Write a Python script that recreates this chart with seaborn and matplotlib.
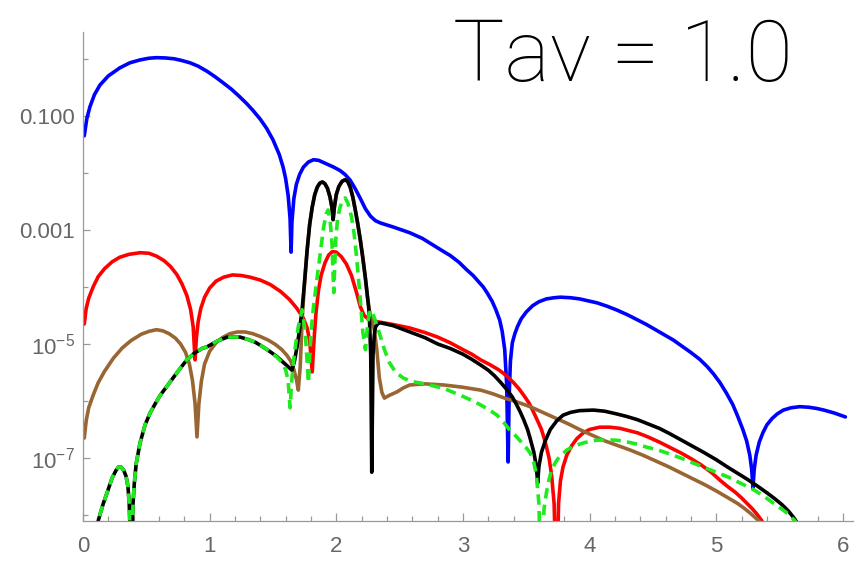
import numpy as np
import pandas as pd
import matplotlib
matplotlib.use("Agg")
import matplotlib.pyplot as plt
import seaborn as sns
from matplotlib.ticker import FixedLocator, FixedFormatter, NullFormatter

# ---------------- data (x, log10 y) ----------------
blue_x = [0.01, 0.03, 0.055, 0.09, 0.134, 0.2, 0.29, 0.37, 0.45, 0.52, 0.58, 0.65, 0.72, 0.78, 0.845,
          0.91, 0.98, 1.04, 1.106, 1.17, 1.23, 1.29, 1.34, 1.40, 1.45, 1.50, 1.55, 1.58, 1.60, 1.62,
          1.635, 1.643, 1.65, 1.665, 1.685, 1.71, 1.74, 1.78, 1.82, 1.86, 1.90, 1.94, 1.98, 2.03, 2.07,
          2.11, 2.15, 2.19, 2.23, 2.27, 2.31, 2.35, 2.45, 2.58, 2.68, 2.76, 2.84, 2.90, 2.97, 3.03,
          3.08, 3.12, 3.16, 3.19, 3.23, 3.26, 3.29, 3.31, 3.33, 3.345, 3.357, 3.365, 3.375, 3.39, 3.41,
          3.43, 3.46, 3.50, 3.55, 3.60, 3.66, 3.72, 3.77, 3.85, 3.92, 4.00, 4.06, 4.14, 4.22, 4.30,
          4.38, 4.45, 4.52, 4.59, 4.66, 4.73, 4.80, 4.87, 4.93, 4.98, 5.03, 5.08, 5.13, 5.17, 5.21,
          5.24, 5.265, 5.28, 5.29, 5.30, 5.315, 5.34, 5.37, 5.40, 5.44, 5.48, 5.53, 5.59, 5.66, 5.73,
          5.79, 5.85, 5.93, 6.02]
blue_log = [-1.35, -1.05, -0.84, -0.63, -0.46, -0.3, -0.16, -0.07, -0.02, 0.01, 0.02, 0.015, 0.0, -0.03, -0.07,
            -0.13, -0.22, -0.31, -0.42, -0.53, -0.65, -0.78, -0.9, -1.06, -1.22, -1.42, -1.68, -1.9, -2.1, -2.4,
            -2.8, -3.39, -2.85, -2.45, -2.2, -2.03, -1.9, -1.81, -1.77, -1.78, -1.82, -1.86, -1.90, -1.96, -2.03,
            -2.13, -2.28, -2.45, -2.63, -2.76, -2.84, -2.88, -2.95, -3.05, -3.15, -3.26, -3.37, -3.45, -3.57, -3.70,
            -3.80, -3.90, -4.0, -4.1, -4.25, -4.40, -4.58, -4.78, -5.1, -5.7, -7.07, -5.9, -5.3, -4.98, -4.82,
            -4.70, -4.56, -4.44, -4.33, -4.26, -4.21, -4.19, -4.18, -4.19, -4.21, -4.25, -4.28, -4.34, -4.41, -4.49,
            -4.58, -4.66, -4.75, -4.84, -4.93, -5.04, -5.15, -5.27, -5.4, -5.53, -5.68, -5.86, -6.06, -6.27, -6.5,
            -6.7, -6.95, -7.2, -7.53, -7.2, -6.95, -6.72, -6.55, -6.42, -6.31, -6.23, -6.16, -6.12, -6.1, -6.11,
            -6.13, -6.16, -6.21, -6.28]

red_x = [0.01, 0.025, 0.045, 0.08, 0.12, 0.17, 0.23, 0.29, 0.36, 0.45, 0.52, 0.58, 0.64, 0.69, 0.74,
         0.78, 0.82, 0.85, 0.87, 0.885, 0.895, 0.91, 0.93, 0.96, 1.00, 1.05, 1.11, 1.18, 1.25, 1.32,
         1.40, 1.48, 1.56, 1.63, 1.69, 1.74, 1.77, 1.79, 1.81, 1.825, 1.84, 1.86, 1.88, 1.91, 1.94,
         1.97, 2.00, 2.04, 2.08, 2.12, 2.16, 2.19, 2.22, 2.25, 2.29, 2.35, 2.45, 2.58, 2.70, 2.80,
         2.90, 3.00, 3.07, 3.14, 3.21, 3.28, 3.34, 3.40, 3.44, 3.48, 3.52, 3.55, 3.59, 3.62, 3.65,
         3.68, 3.70, 3.72, 3.74, 3.755, 3.77, 3.79, 3.82, 3.86, 3.90, 3.95, 4.00, 4.08, 4.16, 4.24,
         4.31, 4.38, 4.46, 4.55, 4.63, 4.72, 4.80, 4.88, 4.96, 5.03, 5.09, 5.15, 5.20, 5.24, 5.28,
         5.32, 5.36, 5.40]
red_log = [-4.65, -4.38, -4.2, -4.0, -3.82, -3.68, -3.56, -3.48, -3.43, -3.40, -3.41, -3.46, -3.54, -3.64, -3.78,
           -3.94, -4.15, -4.4, -4.7, -5.28, -4.9, -4.6, -4.38, -4.18, -4.02, -3.9, -3.83, -3.79, -3.8, -3.83,
           -3.88, -3.96, -4.08, -4.22, -4.38, -4.55, -4.72, -4.95, -5.49, -4.9, -4.45, -4.05, -3.8, -3.58, -3.44,
           -3.38, -3.39, -3.47, -3.6, -3.8, -4.1, -4.35, -4.5, -4.56, -4.6, -4.62, -4.66, -4.72, -4.80, -4.88,
           -4.98, -5.10, -5.18, -5.28, -5.36, -5.45, -5.55, -5.68, -5.78, -5.9, -6.03, -6.16, -6.35, -6.5, -6.72,
           -7.0, -7.3, -7.8, -9.5, -7.8, -7.4, -7.16, -6.95, -6.78, -6.66, -6.56, -6.5, -6.46, -6.46, -6.48,
           -6.52, -6.56, -6.63, -6.72, -6.81, -6.91, -7.01, -7.12, -7.25, -7.39, -7.5, -7.6, -7.7, -7.79, -7.88,
           -7.98, -8.1, -8.3]

brown_x = [0.01, 0.025, 0.045, 0.08, 0.12, 0.17, 0.24, 0.31, 0.38, 0.46, 0.52, 0.58, 0.63, 0.68, 0.73,
           0.77, 0.81, 0.84, 0.865, 0.885, 0.90, 0.915, 0.935, 0.96, 1.00, 1.05, 1.10, 1.16, 1.22, 1.28,
           1.34, 1.40, 1.46, 1.52, 1.57, 1.61, 1.64, 1.665, 1.685, 1.70, 1.715, 1.73, 1.75, 1.77, 1.79,
           1.81, 1.83, 1.85, 1.87, 1.89, 1.91, 1.93, 1.95, 1.965, 1.975, 1.985, 2.00, 2.02, 2.045, 2.07,
           2.09, 2.11, 2.13, 2.15, 2.17, 2.19, 2.21, 2.23, 2.245, 2.26, 2.28, 2.30, 2.32, 2.34, 2.36,
           2.38, 2.42, 2.48, 2.53, 2.58, 2.70, 2.85, 3.00, 3.14, 3.23, 3.33, 3.43, 3.53, 3.63, 3.73,
           3.83, 3.93, 4.02, 4.12, 4.22, 4.32, 4.42, 4.52, 4.62, 4.72, 4.82, 4.92, 5.01, 5.11, 5.17,
           5.22, 5.27, 5.32, 5.38]
brown_log = [-6.65, -6.35, -6.12, -5.90, -5.68, -5.48, -5.25, -5.07, -4.94, -4.83, -4.78, -4.75, -4.77, -4.82, -4.90,
             -5.0, -5.15, -5.35, -5.65, -6.05, -6.63, -6.05, -5.65, -5.35, -5.13, -4.98, -4.89, -4.82, -4.79, -4.79,
             -4.82, -4.87, -4.93, -5.01, -5.10, -5.2, -5.3, -5.45, -5.62, -5.81, -5.4, -4.6, -3.9, -3.35, -2.9,
             -2.6, -2.38, -2.25, -2.18, -2.16, -2.19, -2.27, -2.42, -2.6, -2.82, -2.6, -2.38, -2.24, -2.15, -2.12,
             -2.15, -2.25, -2.42, -2.65, -2.9, -3.18, -3.5, -3.85, -4.15, -4.4, -4.6, -4.75, -5.1, -5.6, -5.85,
             -5.95, -5.9, -5.84, -5.77, -5.72, -5.70, -5.72, -5.76, -5.81, -5.87, -5.95, -6.02, -6.1, -6.2, -6.3,
             -6.4, -6.51, -6.6, -6.70, -6.78, -6.86, -6.95, -7.05, -7.15, -7.26, -7.37, -7.48, -7.59, -7.72, -7.8,
             -7.88, -7.97, -8.07, -8.2]

black_x = [0.10, 0.12, 0.16, 0.19, 0.23, 0.26, 0.28, 0.30, 0.32, 0.34, 0.355, 0.365, 0.375, 0.38, 0.385,
           0.395, 0.405, 0.42, 0.45, 0.49, 0.53, 0.57, 0.61, 0.66, 0.71, 0.76, 0.82, 0.88, 0.94, 0.98,
           1.06, 1.14, 1.24, 1.30, 1.36, 1.42, 1.48, 1.53, 1.57, 1.61, 1.65, 1.67, 1.69, 1.71, 1.73,
           1.75, 1.77, 1.79, 1.81, 1.83, 1.85, 1.87, 1.89, 1.91, 1.93, 1.95, 1.965, 1.975, 1.985, 2.00,
           2.02, 2.045, 2.07, 2.09, 2.11, 2.13, 2.15, 2.17, 2.19, 2.21, 2.23, 2.245, 2.26, 2.272, 2.28,
           2.29, 2.30, 2.31, 2.33, 2.35, 2.45, 2.58, 2.70, 2.80, 2.90, 3.00, 3.07, 3.14, 3.20, 3.25,
           3.30, 3.35, 3.39, 3.42, 3.45, 3.48, 3.51, 3.53, 3.56, 3.58, 3.59, 3.60, 3.62, 3.65, 3.69,
           3.74, 3.79, 3.85, 3.92, 4.03, 4.12, 4.20, 4.29, 4.38, 4.46, 4.55, 4.63, 4.72, 4.81, 4.90,
           5.00, 5.09, 5.17, 5.25, 5.33, 5.40, 5.46, 5.52, 5.57, 5.61, 5.66]
black_log = [-8.6, -8.1, -7.80, -7.61, -7.35, -7.22, -7.16, -7.16, -7.21, -7.32, -7.5, -7.8, -8.5, -9.5, -8.5,
             -7.8, -7.45, -7.1, -6.74, -6.42, -6.21, -6.05, -5.9, -5.75, -5.6, -5.45, -5.28, -5.16, -5.08, -5.05,
             -4.95, -4.88, -4.88, -4.92, -4.97, -5.05, -5.14, -5.22, -5.30, -5.38, -5.46, -5.3, -5.05, -4.75, -4.40,
             -3.9, -3.35, -2.9, -2.6, -2.38, -2.25, -2.18, -2.16, -2.19, -2.27, -2.42, -2.6, -2.82, -2.6, -2.38,
             -2.24, -2.15, -2.12, -2.15, -2.25, -2.42, -2.65, -2.9, -3.18, -3.5, -3.85, -4.15, -4.45, -5.2, -7.25,
             -5.2, -4.85, -4.70, -4.64, -4.63, -4.68, -4.79, -4.89, -5.00, -5.08, -5.18, -5.27, -5.37, -5.46, -5.56,
             -5.68, -5.81, -5.93, -6.05, -6.18, -6.33, -6.5, -6.65, -6.9, -7.15, -7.44, -7.15, -6.9, -6.7, -6.5,
             -6.35, -6.25, -6.2, -6.17, -6.16, -6.18, -6.22, -6.27, -6.33, -6.40, -6.48, -6.57, -6.68, -6.79, -6.90,
             -7.03, -7.16, -7.27, -7.38, -7.5, -7.61, -7.71, -7.82, -7.93, -8.04, -8.2]

green_x = [0.10, 0.12, 0.16, 0.19, 0.23, 0.26, 0.28, 0.30, 0.32, 0.34, 0.355, 0.365, 0.375, 0.38, 0.385,
           0.395, 0.405, 0.42, 0.45, 0.49, 0.53, 0.57, 0.61, 0.66, 0.71, 0.76, 0.82, 0.88, 0.94, 0.98,
           1.06, 1.14, 1.24, 1.30, 1.36, 1.42, 1.48, 1.53, 1.56, 1.60, 1.62, 1.635, 1.65, 1.67, 1.70,
           1.73, 1.755, 1.78, 1.80, 1.82, 1.845, 1.87, 1.90, 1.92, 1.935, 1.95, 1.965, 1.98, 1.995, 2.01,
           2.03, 2.05, 2.07, 2.09, 2.12, 2.14, 2.16, 2.185, 2.21, 2.23, 2.25, 2.27, 2.29, 2.31, 2.33,
           2.35, 2.38, 2.42, 2.47, 2.53, 2.60, 2.70, 2.85, 3.00, 3.07, 3.14, 3.21, 3.27, 3.32, 3.37,
           3.42, 3.46, 3.50, 3.53, 3.56, 3.58, 3.60, 3.62, 3.64, 3.66, 3.68, 3.70, 3.73, 3.76, 3.82,
           3.89, 3.96, 4.05, 4.14, 4.22, 4.30, 4.38, 4.45, 4.54, 4.62, 4.72, 4.82, 4.91, 5.00, 5.10,
           5.19, 5.29, 5.37, 5.45, 5.52, 5.58, 5.66]
green_log = [-8.6, -8.1, -7.80, -7.61, -7.35, -7.22, -7.16, -7.16, -7.21, -7.32, -7.5, -7.8, -8.5, -9.5, -8.5,
             -7.8, -7.45, -7.1, -6.74, -6.42, -6.21, -6.05, -5.9, -5.75, -5.6, -5.45, -5.28, -5.16, -5.08, -5.05,
             -4.95, -4.88, -4.88, -4.92, -4.97, -5.05, -5.14, -5.23, -5.30, -5.45, -5.65, -6.12, -5.6, -5.15, -4.7,
             -4.40, -4.8, -5.68, -4.8, -4.35, -3.9, -3.47, -2.95, -2.72, -2.65, -2.8, -3.2, -4.1, -3.2, -2.8,
             -2.6, -2.48, -2.44, -2.52, -2.77, -3.05, -3.47, -4.1, -4.8, -5.1, -4.6, -4.40, -4.48, -4.6, -4.74,
             -4.88, -5.1, -5.33, -5.5, -5.6, -5.66, -5.7, -5.78, -5.92, -5.99, -6.07, -6.16, -6.25, -6.37, -6.51,
             -6.62, -6.72, -6.82, -6.91, -7.08, -7.3, -7.8, -9.5, -7.9, -7.6, -7.38, -7.21, -7.08, -6.98, -6.86,
             -6.78, -6.73, -6.69, -6.68, -6.69, -6.72, -6.76, -6.81, -6.86, -6.92, -7.0, -7.09, -7.17, -7.25, -7.34,
             -7.44, -7.55, -7.66, -7.79, -7.9, -8.0, -8.2]

x_ticks = [0, 1, 2, 3, 4, 5, 6]
y_major = [1e-7, 1e-5, 1e-3, 1e-1]
y_major_labels = ["$10^{-7}$", "$10^{-5}$", "0.001", "0.100"]
y_minor = [1e-8, 1e-6, 1e-4, 1e-2, 1.0]
title_text = "Tav = 1.0"

# ---------------- style ----------------
sns.set_style("white")
plt.rcParams["font.family"] = ["Liberation Sans", "DejaVu Sans"]
plt.rcParams["mathtext.fontset"] = "custom"
plt.rcParams["mathtext.rm"] = "Liberation Sans"
plt.rcParams["mathtext.it"] = "Liberation Sans:italic"
plt.rcParams["mathtext.bf"] = "Liberation Sans:bold"
plt.rcParams["mathtext.default"] = "regular"
plt.rcParams["lines.scale_dashes"] = False

fig = plt.figure(figsize=(8.61, 5.64), dpi=100)
ax = fig.add_axes([83 / 861, 43 / 564, 770 / 861, 489 / 564])

curves = [
    (blue_x, blue_log, "#0000FF"),
    (red_x, red_log, "#FF0000"),
    (brown_x, brown_log, "#996633"),
    (black_x, black_log, "#000000"),
    (green_x, green_log, "#1EEA1E"),
]
lw = 2.6
for xs, ls_, col in curves:
    df = pd.DataFrame({"x": xs, "y": 10.0 ** np.array(ls_)})
    sns.lineplot(data=df, x="x", y="y", color=col, lw=lw, ax=ax,
                 estimator=None, sort=False, legend=False)
for ln in ax.get_lines():
    ln.set_solid_joinstyle("round")
green_line = ax.get_lines()[-1]
green_line.set_dashes([7.5, 4.5])
green_line.set_dash_capstyle("butt")

ax.set_yscale("log")
ax.set_xlim(0, 6.08)
ax.set_ylim(10 ** -8.105, 10 ** 0.47)

ax.xaxis.set_major_locator(FixedLocator(x_ticks))
ax.xaxis.set_minor_locator(FixedLocator(np.arange(0, 6.01, 0.2)))
ax.set_xticklabels([str(t) for t in x_ticks])
ax.yaxis.set_major_locator(FixedLocator(y_major))
ax.yaxis.set_major_formatter(FixedFormatter(y_major_labels))
ax.yaxis.set_minor_locator(FixedLocator(y_minor))
ax.yaxis.set_minor_formatter(NullFormatter())

ax.set_xlabel("")
ax.set_ylabel("")
for s in ["top", "right"]:
    ax.spines[s].set_visible(False)
for s in ["left", "bottom"]:
    ax.spines[s].set_color("#999999")
    ax.spines[s].set_linewidth(0.9)

ax.tick_params(axis="both", which="both", direction="in", color="#999999", width=0.9,
               labelcolor="#666666", labelsize=16)
ax.tick_params(axis="x", which="major", length=6, pad=11)
ax.tick_params(axis="x", which="minor", length=3.5)
ax.tick_params(axis="y", which="major", length=5, pad=6)
ax.tick_params(axis="y", which="minor", length=3.5)
ax.tick_params(axis="x", which="both", bottom=True)
ax.tick_params(axis="y", which="both", left=True)

fig.text(453 / 861, 1 - 81 / 564, title_text, fontsize=62, fontfamily=["Roboto", "DejaVu Sans"],
         fontweight="light", color="black", ha="left", va="baseline")

fig.savefig("out.png", dpi=100)
